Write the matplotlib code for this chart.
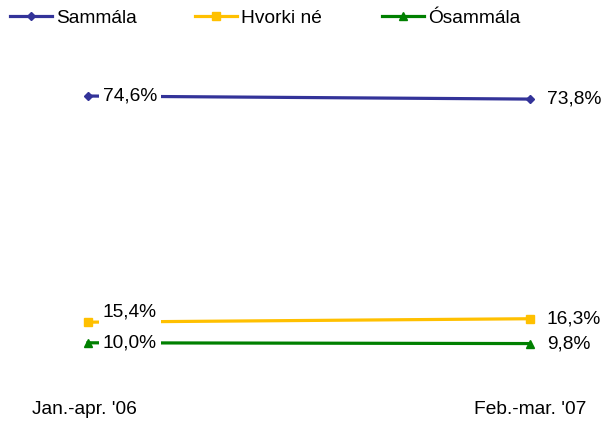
import matplotlib
matplotlib.use("Agg")
import matplotlib.pyplot as plt
from matplotlib.lines import Line2D

plt.rcParams['font.family'] = ['Liberation Sans', 'DejaVu Sans']

# gögn
periods = ["Jan.-apr. '06", "Feb.-mar. '07"]
series_names = ["Sammála", "Hvorki né", "Ósammála"]
sammala = [74.6, 73.8]
hvorki = [15.4, 16.3]
osammala = [10.0, 9.8]

colors = ["#333399", "#FFC000", "#008000"]
markers = ["D", "s", "^"]
msizes = [4.5, 5.5, 6]
FS = 13.8

W, H = 603, 421
fig = plt.figure(figsize=(W / 100, H / 100), dpi=100)
# plot area: x from 88px to 530px, y=0 at 381px, y=100 at -1px
ax = fig.add_axes([88 / W, (H - 381) / H, (530 - 88) / W, 382 / H])
ax.set_xlim(0, 1)
ax.set_ylim(0, 100)
ax.axis('off')

xs = [0, 1]
all_vals = [sammala, hvorki, osammala]
# lóðrétt hliðrun vinstri merkis (px)
left_dy = [0, 10, 0]

for vals, c, m, ms, ldy in zip(all_vals, colors, markers, msizes, left_dy):
    ax.plot(xs, vals, color=c, lw=2.3, marker=m, markersize=ms,
            markeredgecolor=c, markerfacecolor=c, clip_on=False, zorder=2)
    ax.annotate(f"{vals[0]:.1f}%".replace('.', ','), (xs[0], vals[0]),
                xytext=(15, ldy), textcoords='offset pixels',
                ha='left', va='center', fontsize=FS, zorder=3,
                bbox=dict(boxstyle='square,pad=0.2', fc='white', ec='none'))
    ax.annotate(f"{vals[1]:.1f}%".replace('.', ','), (xs[1], vals[1]),
                xytext=(17, 0), textcoords='offset pixels',
                ha='left', va='center', fontsize=FS, zorder=3)

for x, lab in zip(xs, periods):
    ax.annotate(lab, (x, 0), xytext=(-4 if x == 0 else 0, -29),
                textcoords='offset pixels', ha='center', va='center', fontsize=FS)

# þrjár sérstakar skýringar til að stýra staðsetningu
leg_x = [10, 195, 382]
for c, m, ms, name, lx in zip(colors, markers, msizes, series_names, leg_x):
    h = Line2D([], [], color=c, lw=2.3, marker=m, markersize=ms,
               markeredgecolor=c, markerfacecolor=c)
    fig.legend([h], [name], loc='center left', bbox_to_anchor=(lx / W, 1 - 18 / H),
               frameon=False, fontsize=FS, handlelength=2.2,
               handletextpad=0.2, borderaxespad=0, borderpad=0)

fig.savefig("out.png", dpi=100)
